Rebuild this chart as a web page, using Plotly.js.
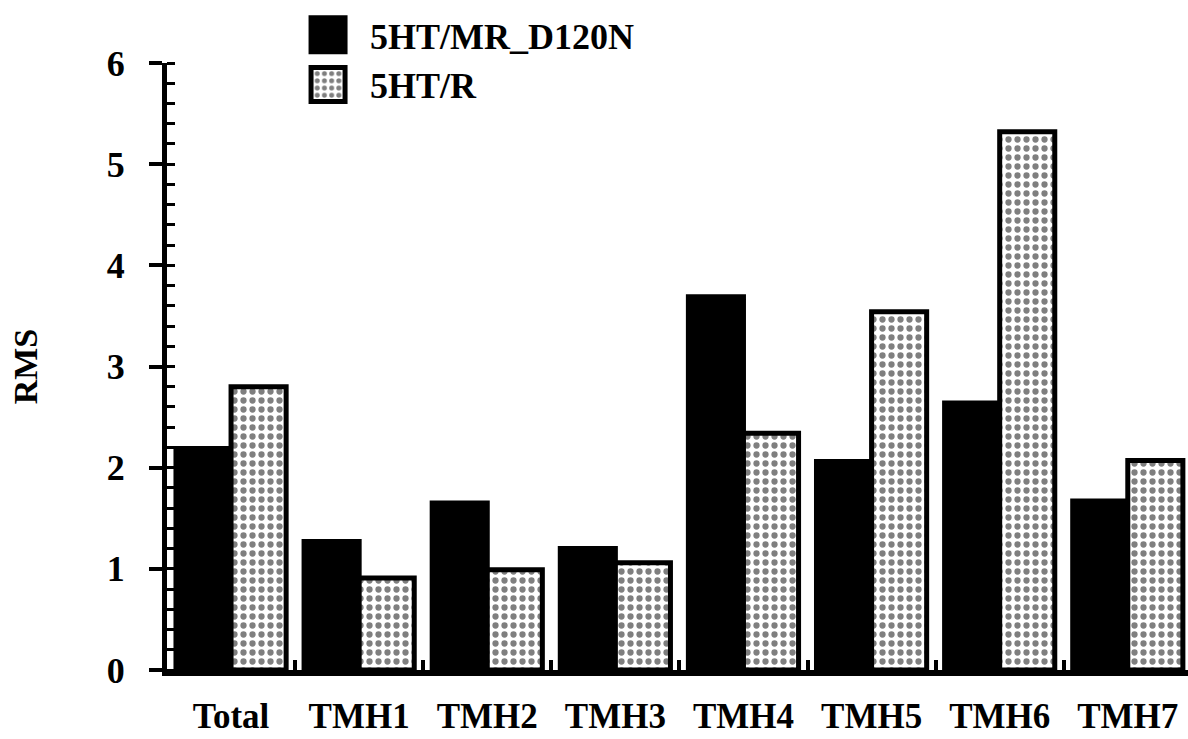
<!DOCTYPE html>
<html>
<head>
<meta charset="utf-8">
<script src="https://cdn.plot.ly/plotly-3.0.1.min.js"></script>
<style>html,body{margin:0;padding:0;background:#fff;}</style>
</head>
<body>
<div id="chart" style="width:1188px;height:739px;"></div>
<script>
const categories = ['Total', 'TMH1', 'TMH2', 'TMH3', 'TMH4', 'TMH5', 'TMH6', 'TMH7'];
const seriesNames = ['5HT/MR_D120N', '5HT/R'];
const mrD120N = [2.19, 1.27, 1.65, 1.20, 3.69, 2.06, 2.64, 1.67];
const htR = [2.80, 0.91, 0.99, 1.06, 2.34, 3.54, 5.32, 2.07];
const yTicks = [0, 1, 2, 3, 4, 5, 6];

const fontFam = '"Liberation Serif", "Times New Roman", serif';
const f = {family: fontFam, size: 36, color: '#000', weight: 'bold'};
const fx = {family: fontFam, size: 35, color: '#000', weight: 'bold'};
const ft = {family: fontFam, size: 34, color: '#000', weight: 'bold'};

const traces = [
  {type: 'bar', name: seriesNames[0], x: categories, y: mrD120N,
   marker: {color: '#000', line: {color: '#000', width: 5}}},
  {type: 'bar', name: seriesNames[1], x: categories, y: htR,
   marker: {color: '#fff', line: {color: '#000', width: 5},
            pattern: {shape: '.', fgcolor: '#000', bgcolor: '#fff', size: 9, solidity: 0.38, fillmode: 'overlay'}}}
];

const layout = {
  width: 1188, height: 739,
  margin: {l: 167, r: 0, t: 63, b: 69},
  paper_bgcolor: '#fff', plot_bgcolor: '#fff',
  barmode: 'group', bargap: 0.14, bargroupgap: 0,
  showlegend: true,
  legend: {x: 0.1166, y: 1.096, xanchor: 'left', yanchor: 'top', font: f,
           itemwidth: 74, bgcolor: 'rgba(0,0,0,0)', tracegroupgap: 0},
  xaxis: {range: [-0.5, 7.47], showline: true, linewidth: 6, linecolor: '#000',
          ticks: 'inside', tickson: 'boundaries', ticklen: 10, tickwidth: 4, tickcolor: '#000',
          tickfont: fx, ticklabelstandoff: 10, showgrid: false, zeroline: false, fixedrange: true},
  yaxis: {range: [0, 6], tickvals: yTicks, ticktext: yTicks.map(String),
          showline: true, linewidth: 5, linecolor: '#000',
          ticks: 'outside', ticklen: 13, tickwidth: 4, tickcolor: '#000',
          minor: {ticks: 'inside', dtick: 0.2, ticklen: 8, tickwidth: 3, tickcolor: '#000', showgrid: false},
          tickfont: f, ticklabelstandoff: 17, showgrid: false, zeroline: false,
          title: {text: 'RMS', font: ft, standoff: 60}, automargin: false, fixedrange: true},
  yaxis2: {overlaying: 'y', side: 'left', range: [0, 6], tickvals: yTicks, showticklabels: false,
           ticks: 'inside', ticklen: 10, tickwidth: 4, tickcolor: '#000',
           showline: false, showgrid: false, zeroline: false, fixedrange: true}
};

Plotly.newPlot('chart', traces, layout, {displayModeBar: false, staticPlot: true}).then(function(gd) {
  document.querySelectorAll('.legendpoints path').forEach(function(p) {
    p.setAttribute('d', 'M17,17H-17V-17H17Z');
  });
});
</script>
</body>
</html>
